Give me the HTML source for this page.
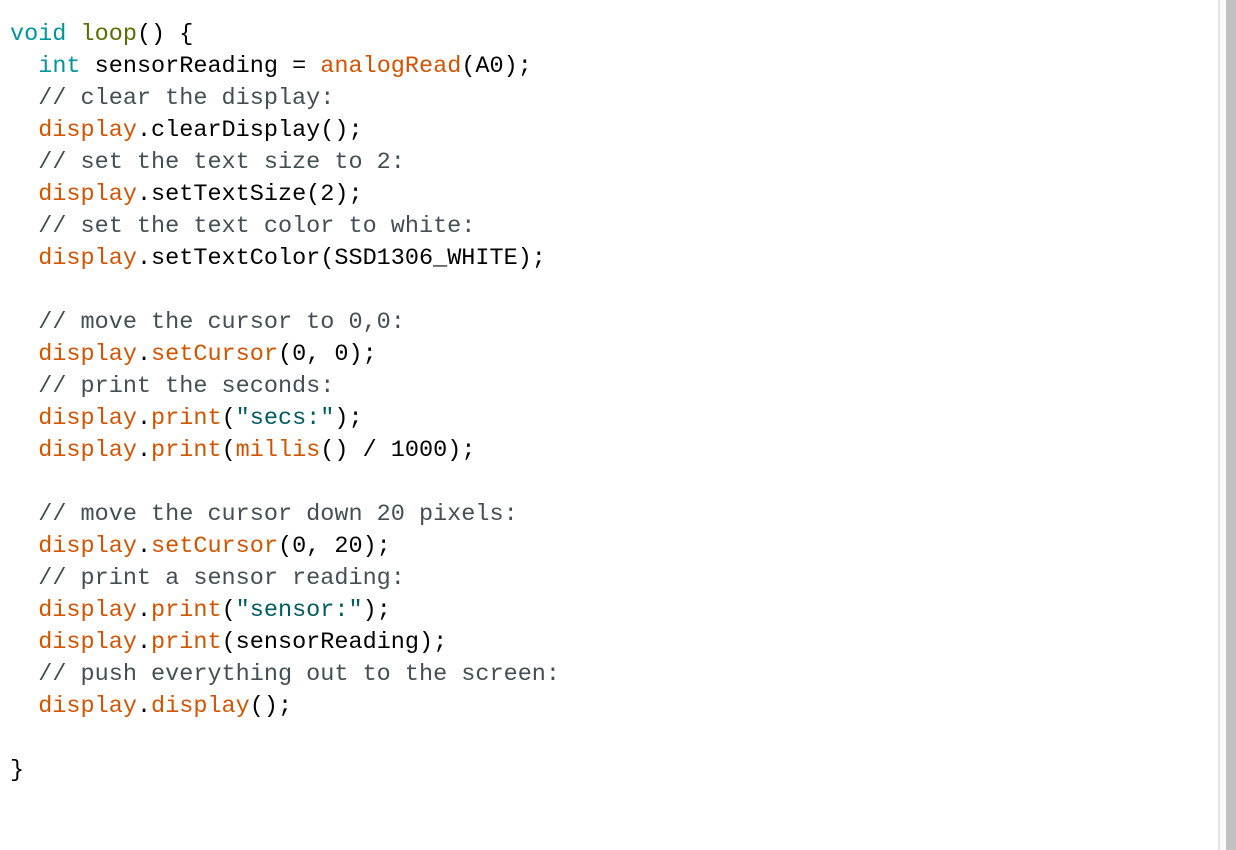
<!DOCTYPE html>
<html><head><style>
body{margin:0;width:1236px;height:850px;background:#fff;overflow:hidden;position:relative}
pre{position:absolute;left:10px;top:19px;margin:0;font-family:"Liberation Mono",monospace;font-size:23.5px;line-height:32px;color:#000;letter-spacing:0px}
.k{color:#00979c}.l{color:#5e6d03}.f{color:#d35400}.c{color:#434f54}.s{color:#005c5f}
.sb1{position:absolute;left:1218px;top:0;width:2px;height:850px;background:#e6e6e6}
.sb2{position:absolute;left:1220px;top:0;width:6px;height:850px;background:#fafafa}
.sb3{position:absolute;left:1226px;top:0;width:10px;height:850px;background:#c1c1c1}
</style></head><body>
<pre><span class="k">void</span> <span class="l">loop</span>() {
  <span class="k">int</span> sensorReading = <span class="f">analogRead</span>(A0);
  <span class="c">// clear the display:</span>
  <span class="f">display</span>.clearDisplay();
  <span class="c">// set the text size to 2:</span>
  <span class="f">display</span>.setTextSize(2);
  <span class="c">// set the text color to white:</span>
  <span class="f">display</span>.setTextColor(SSD1306_WHITE);

  <span class="c">// move the cursor to 0,0:</span>
  <span class="f">display</span>.<span class="f">setCursor</span>(0, 0);
  <span class="c">// print the seconds:</span>
  <span class="f">display</span>.<span class="f">print</span>(<span class="s">"secs:"</span>);
  <span class="f">display</span>.<span class="f">print</span>(<span class="f">millis</span>() / 1000);

  <span class="c">// move the cursor down 20 pixels:</span>
  <span class="f">display</span>.<span class="f">setCursor</span>(0, 20);
  <span class="c">// print a sensor reading:</span>
  <span class="f">display</span>.<span class="f">print</span>(<span class="s">"sensor:"</span>);
  <span class="f">display</span>.<span class="f">print</span>(sensorReading);
  <span class="c">// push everything out to the screen:</span>
  <span class="f">display</span>.<span class="f">display</span>();

}</pre>
<div class="sb1"></div><div class="sb2"></div><div class="sb3"></div>
</body></html>
